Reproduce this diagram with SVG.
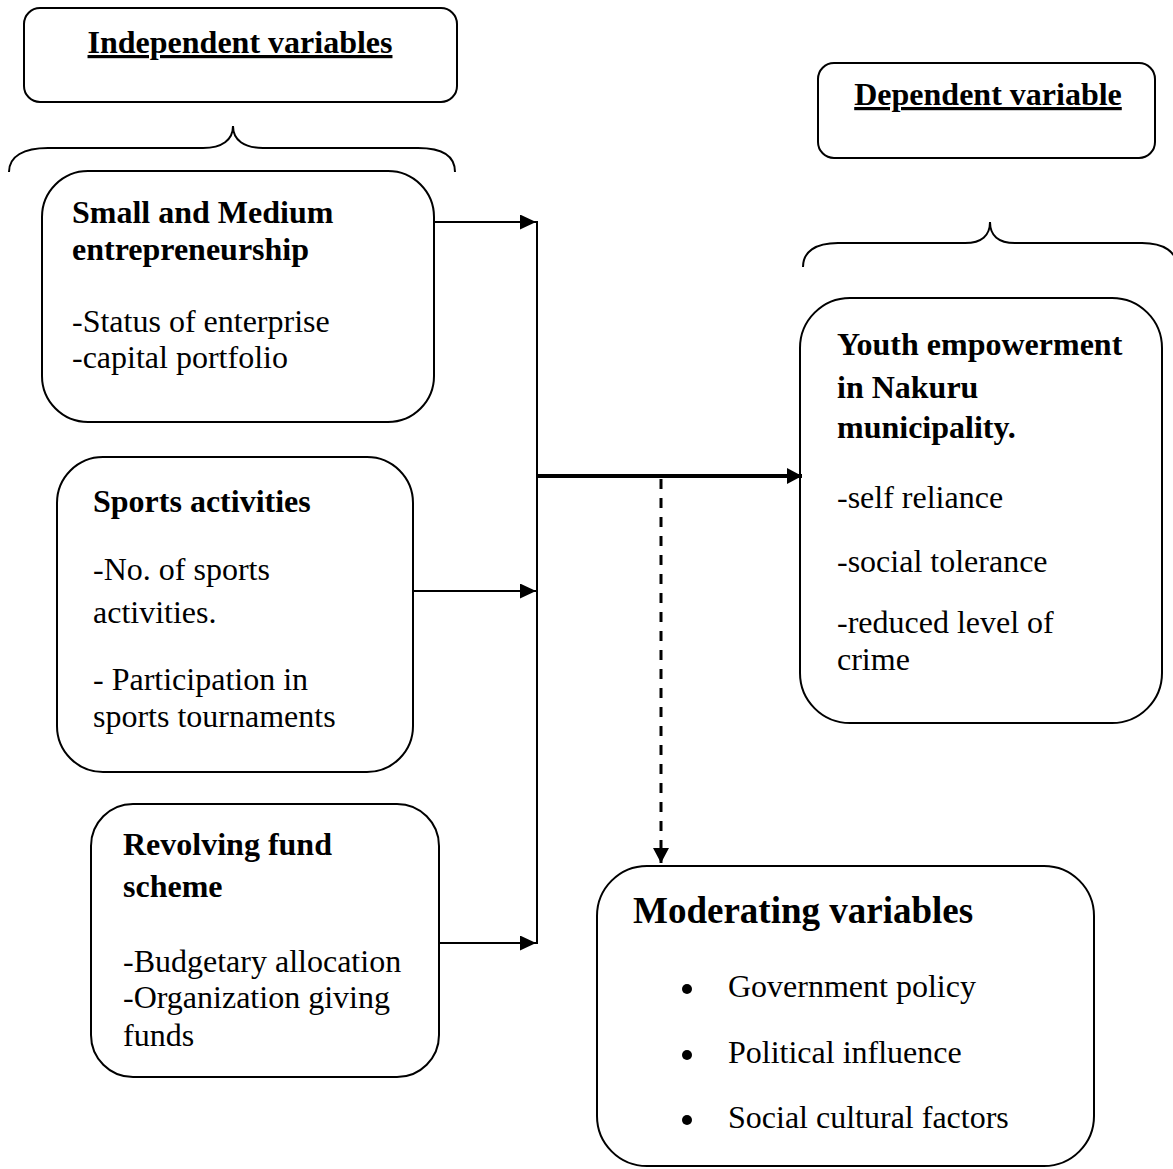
<svg xmlns="http://www.w3.org/2000/svg" width="1173" height="1169" viewBox="0 0 1173 1169">
<defs>
<style>
.box{fill:#fff;stroke:#000;stroke-width:2}
.brace{fill:none;stroke:#000;stroke-width:2}
.t{font-family:"Liberation Serif","Times New Roman",serif;font-size:32px;fill:#000}
.b{font-weight:bold}
.u{text-decoration:underline}
.line{fill:none;stroke:#000;stroke-width:2}
</style>
<marker id="arr" markerUnits="userSpaceOnUse" markerWidth="17" markerHeight="16" refX="16" refY="7.5" orient="auto">
<path d="M0,0 L16,7.5 L0,15 z" fill="#000"/>
</marker>
<marker id="arrB" markerUnits="userSpaceOnUse" markerWidth="17" markerHeight="17" refX="15" refY="8" orient="auto">
<path d="M0,0 L15,8 L0,16 z" fill="#000"/>
</marker>
</defs>

<g id="header-independent">
<rect class="box" x="24" y="8" width="433" height="94" rx="16"/>
<text class="t b u" x="240" y="53" text-anchor="middle">Independent variables</text>
</g>
<g id="brace-independent">
<path class="brace" d="M9,172 C9,156 24,148 48,148 L203,148 C222,148 233,140 233,126 C233,140 244,148 263,148 L418,148 C442,148 455,156 455,172"/>
</g>

<g id="header-dependent">
<rect class="box" x="818" y="63" width="337" height="95" rx="16"/>
<text class="t b u" x="988" y="105" text-anchor="middle">Dependent variable</text>
</g>
<g id="brace-dependent">
<path class="brace" d="M803,267 C803,252 815,243 838,243 L965,243 C982,243 990,235 990,222 C990,235 998,243 1015,243 L1142,243 C1164,243 1177,252 1177,267"/>
</g>

<g id="node-sme">
<rect class="box" x="42" y="171" width="392" height="251" rx="46"/>
<text class="t b" x="72" y="223">Small and Medium</text>
<text class="t b" x="72" y="260">entrepreneurship</text>
<text class="t" x="72" y="332">-Status of enterprise</text>
<text class="t" x="72" y="368">-capital portfolio</text>
</g>

<g id="node-sports">
<rect class="box" x="57" y="457" width="356" height="315" rx="46"/>
<text class="t b" x="93" y="512">Sports activities</text>
<text class="t" x="93" y="580">-No. of sports</text>
<text class="t" x="93" y="623">activities.</text>
<text class="t" x="93" y="690">- Participation in</text>
<text class="t" x="93" y="727">sports tournaments</text>
</g>

<g id="node-revolving">
<rect class="box" x="91" y="804" width="348" height="273" rx="42"/>
<text class="t b" x="123" y="855">Revolving fund</text>
<text class="t b" x="123" y="897">scheme</text>
<text class="t" x="123" y="972">-Budgetary allocation</text>
<text class="t" x="123" y="1008">-Organization giving</text>
<text class="t" x="123" y="1046">funds</text>
</g>

<g id="node-youth">
<rect class="box" x="800" y="298" width="362" height="425" rx="50"/>
<text class="t b" x="837" y="355">Youth empowerment</text>
<text class="t b" x="837" y="398">in Nakuru</text>
<text class="t b" x="837" y="438">municipality.</text>
<text class="t" x="837" y="508">-self reliance</text>
<text class="t" x="837" y="572">-social tolerance</text>
<text class="t" x="837" y="633">-reduced level of</text>
<text class="t" x="837" y="670">crime</text>
</g>

<g id="node-moderating">
<rect class="box" x="597" y="866" width="497" height="300" rx="50"/>
<text class="t b" x="633" y="923" style="font-size:37px">Moderating variables</text>
<circle cx="687" cy="989" r="5"/>
<text class="t" x="728" y="997">Government policy</text>
<circle cx="687" cy="1055" r="5"/>
<text class="t" x="728" y="1063">Political influence</text>
<circle cx="687" cy="1120" r="5"/>
<text class="t" x="728" y="1128">Social cultural factors</text>
</g>

<g id="connectors">
<line class="line" x1="434" y1="222" x2="536" y2="222" marker-end="url(#arr)"/>
<line class="line" x1="413" y1="591" x2="536" y2="591" marker-end="url(#arr)"/>
<line class="line" x1="439" y1="943" x2="536" y2="943" marker-end="url(#arr)"/>
<line class="line" x1="537" y1="221" x2="537" y2="944"/>
<line x1="537" y1="476" x2="802" y2="476" stroke="#000" stroke-width="4" marker-end="url(#arrB)"/>
<line x1="661" y1="479" x2="661" y2="863" stroke="#000" stroke-width="3" stroke-dasharray="10 9" marker-end="url(#arrB)"/>
</g>
</svg>
